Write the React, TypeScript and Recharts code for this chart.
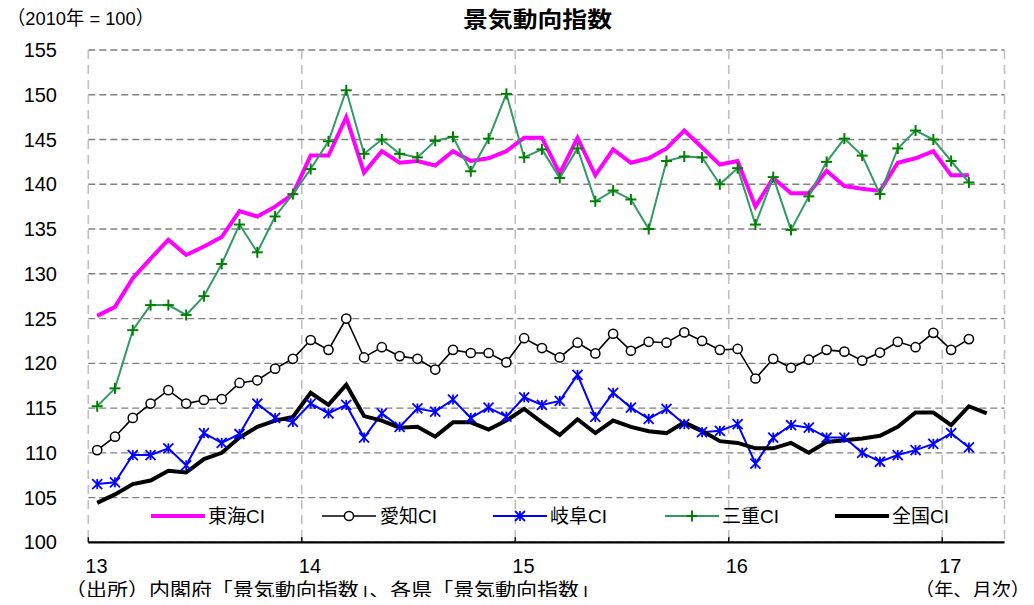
import React from 'react';
import { LineChart, Line, XAxis, YAxis, CartesianGrid } from 'recharts';

const FONT = '"Liberation Sans", Arial, "Noto Sans CJK JP", sans-serif';

// categories: months from Jan 2013 (index 0) ; ticks at each January
const yearTicks = [0, 12, 24, 36, 48];
const yearLabels = ['13', '14', '15', '16', '17'];
const yTicks = [100, 105, 110, 115, 120, 125, 130, 135, 140, 145, 150, 155];

const tokai = [
  125.3, 126.3, 129.5, 131.7, 133.8, 132.1, 133.05, 134.1, 137.0, 136.4, 137.5, 138.9,
  143.2, 143.2, 147.5, 141.3, 143.7, 142.4, 142.6, 142.1, 143.7, 142.6, 142.9, 143.7,
  145.2, 145.2, 141.2, 145.2, 141.0, 143.9, 142.4, 142.9, 144.0, 146.0, 144.1, 142.2,
  142.6, 137.5, 140.7, 139.0, 139.0, 141.5, 139.8, 139.5, 139.25, 142.4, 142.9, 143.7,
  141.0, 141.0,
];
const aichi = [
  110.3, 111.8, 113.9, 115.5, 117.0, 115.5, 115.9, 116.0, 117.8, 118.1, 119.4, 120.5,
  122.6, 121.5, 125.0, 120.65, 121.8, 120.8, 120.5, 119.3, 121.5, 121.15, 121.15, 120.1,
  122.8, 121.7, 120.65, 122.3, 121.1, 123.3, 121.4, 122.4, 122.3, 123.45, 122.5, 121.5,
  121.6, 118.3, 120.5, 119.5, 120.4, 121.5, 121.3, 120.3, 121.2, 122.4, 121.8, 123.4,
  121.5, 122.7,
];
const gifu = [
  106.5, 106.7, 109.75, 109.75, 110.5, 108.6, 112.2, 111.1, 112.1, 115.5, 113.9, 113.45,
  115.5, 114.4, 115.35, 111.7, 114.4, 112.9, 114.95, 114.6, 115.95, 113.9, 115.05, 114.05,
  116.2, 115.35, 115.8, 118.7, 114.0, 116.7, 115.05, 113.8, 114.9, 113.2, 112.3, 112.45,
  113.2, 108.8, 111.7, 113.1, 112.8, 111.7, 111.7, 110.0, 109.0, 109.75, 110.3, 111.0,
  112.2, 110.6,
];
const mie = [
  115.2, 117.2, 123.7, 126.5, 126.5, 125.4, 127.5, 131.1, 135.5, 132.4, 136.4, 138.9,
  141.7, 144.8, 150.5, 143.4, 145.0, 143.4, 143.0, 144.85, 145.3, 141.45, 145.1, 150.1,
  143.0, 143.9, 140.7, 144.0, 138.1, 139.3, 138.3, 135.0, 142.6, 143.1, 143.0, 140.0,
  141.8, 135.5, 140.8, 134.9, 138.65, 142.5, 145.1, 143.2, 138.9, 144.0, 146.0, 145.0,
  142.6, 140.2,
];
const national = [
  104.4, 105.35, 106.5, 106.9, 108.0, 107.8, 109.3, 110.0, 111.7, 112.9, 113.6, 114.0,
  116.7, 115.35, 117.6, 114.1, 113.6, 112.8, 112.9, 111.8, 113.4, 113.4, 112.6, 113.6,
  114.9, 113.4, 112.0, 113.75, 112.2, 113.6, 112.9, 112.4, 112.2, 113.4, 112.45, 111.3,
  111.1, 110.5, 110.5, 111.1, 110.0, 111.2, 111.4, 111.6, 111.9, 112.9, 114.5, 114.5,
  113.1, 115.2, 114.4,
];

const seriesNames = ['東海CI', '愛知CI', '岐阜CI', '三重CI', '全国CI'];

const data = national.map((v, i) => ({
  x: i + 0.5,
  tokai: tokai[i],
  aichi: aichi[i],
  gifu: gifu[i],
  mie: mie[i],
  national: v,
}));

const PLOT_BOTTOM = 542.3;

const XTick = (props: any) => {
  const { x, payload } = props;
  const idx = yearTicks.indexOf(payload.value);
  return (
    <g>
      <line x1={x} x2={x} y1={PLOT_BOTTOM} y2={PLOT_BOTTOM - 5} stroke="#000" strokeWidth={1.5} />
      <text x={x - 3} y={566} dominantBaseline="central" fontSize={20} fontFamily={FONT} fill="#000">
        {yearLabels[idx]}
      </text>
    </g>
  );
};

const YTick = (props: any) => {
  const { y, payload } = props;
  return (
    <text x={57} y={y} textAnchor="end" dominantBaseline="central" fontSize={20} fontFamily={FONT} fill="#000">
      {payload.value}
    </text>
  );
};

const CircleDot = (props: any) => {
  const { cx, cy } = props;
  if (cx == null || cy == null) return <g />;
  return <circle cx={cx} cy={cy} r={4.6} fill="#fff" stroke="#000" strokeWidth={1.5} />;
};

const StarShape = ({ cx, cy, s = 5, color = '#0000FF' }: any) => (
  <g stroke={color} strokeWidth={1.8}>
    <line x1={cx} y1={cy - s} x2={cx} y2={cy + s} />
    <line x1={cx - s} y1={cy - s} x2={cx + s} y2={cy + s} />
    <line x1={cx - s} y1={cy + s} x2={cx + s} y2={cy - s} />
  </g>
);

const StarDot = (props: any) => {
  const { cx, cy } = props;
  if (cx == null || cy == null) return <g />;
  return <StarShape cx={cx} cy={cy} />;
};

const PlusShape = ({ cx, cy, s = 5.5, color = '#008000' }: any) => (
  <g stroke={color} strokeWidth={2}>
    <line x1={cx - s} y1={cy} x2={cx + s} y2={cy} />
    <line x1={cx} y1={cy - s} x2={cx} y2={cy + s} />
  </g>
);

const PlusDot = (props: any) => {
  const { cx, cy } = props;
  if (cx == null || cy == null) return <g />;
  return <PlusShape cx={cx} cy={cy} />;
};

const legendY = 516;
const legendItems = [
  { name: seriesNames[0], x1: 151, x2: 205, tx: 208, color: '#FF00FF', w: 4, marker: null },
  { name: seriesNames[1], x1: 322, x2: 376, tx: 380, color: '#000000', w: 1.5, marker: 'circle' },
  { name: seriesNames[2], x1: 493, x2: 547, tx: 550, color: '#0000FF', w: 2, marker: 'star' },
  { name: seriesNames[3], x1: 665, x2: 719, tx: 722, color: '#339966', w: 2, marker: 'plus' },
  { name: seriesNames[4], x1: 835, x2: 889, tx: 892, color: '#000000', w: 4, marker: null },
];

export default function App() {
  return (
    <div style={{ position: 'relative', width: 1026, height: 597, margin: '-8px 0 0 -8px', background: '#fff' }}>
      <LineChart
        width={1026}
        height={597}
        data={data}
        margin={{ top: 50, right: 21.5, bottom: 24.7, left: 0 }}
      >
        <CartesianGrid horizontal={true} vertical={false} stroke="#808080" strokeDasharray="7 4" strokeWidth={1.3} />
        <CartesianGrid horizontal={false} vertical={true} stroke="#c0c0c0" strokeDasharray="9 6" strokeWidth={1.6} />
        <XAxis
          dataKey="x"
          type="number"
          domain={[0, 51.5]}
          ticks={yearTicks}
          interval={0}
          height={30}
          axisLine={{ stroke: '#000', strokeWidth: 2.2 }}
          tickLine={false}
          tick={<XTick />}
          allowDecimals={true}
        />
        <YAxis
          type="number"
          domain={[100, 155]}
          ticks={yTicks}
          interval={0}
          width={88.3}
          axisLine={false}
          tickLine={false}
          tick={<YTick />}
        />
        <Line
          dataKey="tokai"
          stroke="#FF00FF"
          strokeWidth={4}
          dot={false}
          isAnimationActive={false}
          strokeLinejoin="miter"
        />
        <Line
          dataKey="aichi"
          stroke="#000000"
          strokeWidth={1.6}
          dot={<CircleDot />}
          activeDot={false}
          isAnimationActive={false}
        />
        <Line
          dataKey="gifu"
          stroke="#0000FF"
          strokeWidth={2}
          dot={<StarDot />}
          activeDot={false}
          isAnimationActive={false}
        />
        <Line
          dataKey="mie"
          stroke="#339966"
          strokeWidth={2}
          dot={<PlusDot />}
          activeDot={false}
          isAnimationActive={false}
        />
        <Line
          dataKey="national"
          stroke="#000000"
          strokeWidth={4}
          dot={false}
          isAnimationActive={false}
          strokeLinejoin="miter"
        />
      </LineChart>
      <svg
        width={1034}
        height={605}
        style={{ position: 'absolute', left: 0, top: 0, pointerEvents: 'none' }}
      >
        <text x={7} y={18} dominantBaseline="central" fontSize={19} fontFamily={FONT} fill="#000" textLength={147} lengthAdjust="spacingAndGlyphs">
          （2010年 = 100）
        </text>
        <text x={463} y={19} dominantBaseline="central" fontSize={22} fontWeight="bold" fontFamily={FONT} fill="#000" textLength={149} lengthAdjust="spacingAndGlyphs">
          景気動向指数
        </text>
        {legendItems.map((it) => {
          const mx = (it.x1 + it.x2) / 2;
          return (
            <g key={it.name}>
              <line x1={it.x1} x2={it.x2} y1={legendY} y2={legendY} stroke={it.color} strokeWidth={it.w} />
              {it.marker === 'circle' && <circle cx={mx} cy={legendY} r={4.6} fill="#fff" stroke="#000" strokeWidth={1.5} />}
              {it.marker === 'star' && <StarShape cx={mx} cy={legendY} />}
              {it.marker === 'plus' && <PlusShape cx={mx} cy={legendY} />}
              <text x={it.tx} y={legendY} dominantBaseline="central" fontSize={19} fontFamily={FONT} fill="#000">
                {it.name}
              </text>
            </g>
          );
        })}
        <text x={65} y={590} dominantBaseline="central" fontSize={19} fontFamily={FONT} fill="#000" textLength={535} lengthAdjust="spacingAndGlyphs">
          （出所）内閣府「景気動向指数」、各県「景気動向指数」
        </text>
        <text x={915} y={590} dominantBaseline="central" fontSize={19} fontFamily={FONT} fill="#000" textLength={115} lengthAdjust="spacingAndGlyphs">
          （年、月次）
        </text>
      </svg>
    </div>
  );
}
